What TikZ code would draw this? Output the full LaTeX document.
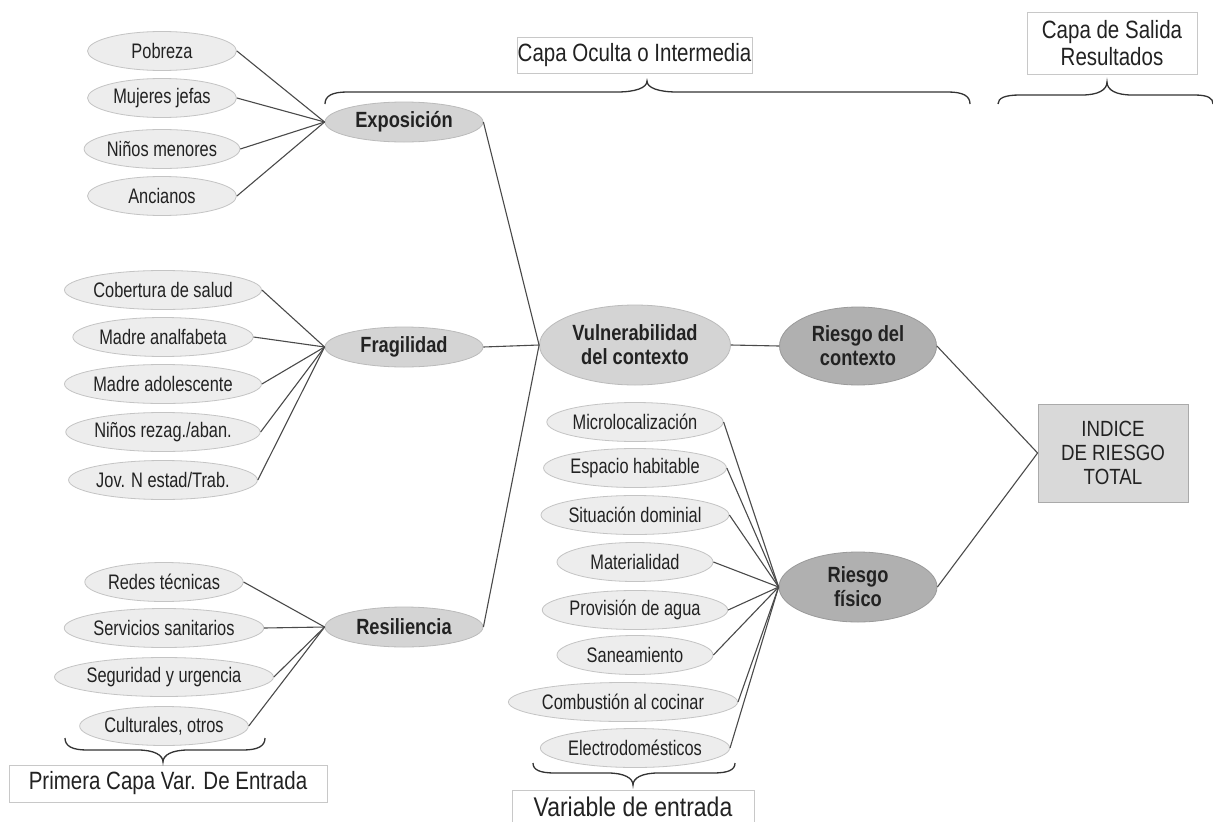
\documentclass[tikz,border=0pt]{standalone}
\usepackage{fontspec}
\setmainfont{Liberation Sans}
\newfontfamily\nfont[FakeStretch=0.78]{Liberation Sans}
\newfontfamily\bfont[FakeStretch=0.83]{Liberation Sans}
\newfontfamily\hfont[FakeStretch=0.82]{Liberation Sans}
\newfontfamily\ifont[FakeStretch=0.85]{Liberation Sans}
\usetikzlibrary{shapes.geometric}
\definecolor{sfill}{HTML}{EDEDED}
\definecolor{sbord}{HTML}{C4C4C4}
\definecolor{mfill}{HTML}{D4D4D4}
\definecolor{mbord}{HTML}{BBBBBB}
\definecolor{dfill}{HTML}{B0B0B0}
\definecolor{dbord}{HTML}{9A9A9A}
\definecolor{ifill}{HTML}{D9D9D9}
\definecolor{ibord}{HTML}{AAAAAA}
\definecolor{hbord}{HTML}{C8C8C8}
\definecolor{lin}{HTML}{4A4A4A}
\definecolor{txt}{HTML}{222222}
\tikzset{
  small/.style={ellipse, draw=sbord, fill=sfill, line width=0.8pt, minimum height=39pt, inner sep=0pt, text=txt, font=\nfont\fontsize{21}{24}\selectfont},
  mid/.style={ellipse, draw=mbord, fill=mfill, line width=0.8pt, minimum width=158pt, minimum height=40pt, inner sep=0pt, text=txt, align=center, font=\bfont\bfseries\fontsize{22}{24}\selectfont},
  dark/.style={mid, draw=dbord, fill=dfill},
  hbox/.style={rectangle, draw=hbord, fill=white, line width=0.8pt, inner sep=0pt, text=txt, align=center, font=\hfont\fontsize{25}{27}\selectfont},
  ibox/.style={rectangle, draw=ibord, fill=ifill, line width=0.8pt, inner sep=0pt, text=txt, align=center, minimum width=150pt, minimum height=98pt, font=\ifont\fontsize{22}{24}\selectfont},
  conn/.style={draw=lin, line width=1.1pt},
  bracel/.style={draw=black!80, line width=1.3pt}
}
\begin{document}
\begin{tikzpicture}[x=1pt,y=-1pt]
\useasboundingbox (0,0) rectangle (1213,822);
\fill[white] (0,0) rectangle (1213,822);

% group 1
\node[small, minimum width=149pt] (p1) at (162,51) {Pobreza};
\node[small, minimum width=149pt] (p2) at (162,98) {Mujeres jefas};
\node[small, minimum width=149pt] (p3) at (162,149) {Niños menores};
\node[small, minimum width=149pt] (p4) at (162,196) {Ancianos};
% group 2
\node[small, minimum width=157pt] (f1) at (163,290) {Cobertura de salud};
\node[small, minimum width=157pt] (f2) at (163,337) {Madre analfabeta};
\node[small, minimum width=157pt] (f3) at (163,384) {Madre adolescente};
\node[small, minimum width=157pt] (f4) at (163,432) {Niños rezag./aban.};
\node[small, minimum width=157pt] (f5) at (163,480) {Jov. N estad/Trab.};
% group 3
\node[small, minimum width=158pt] (r1) at (164,582) {Redes técnicas};
\node[small, minimum width=158pt] (r2) at (164,628) {Servicios sanitarios};
\node[small, minimum width=168pt] (r3) at (164,677) {Seguridad y urgencia};
\node[small, minimum width=158pt] (r4) at (164,726) {Culturales, otros};
% group 4
\node[small, minimum width=156pt] (m1) at (635,422) {Microlocalización};
\node[small, minimum width=156pt] (m2) at (635,468) {Espacio habitable};
\node[small, minimum width=156pt] (m3) at (635,515) {Situación dominial};
\node[small, minimum width=156pt] (m4) at (635,562) {Materialidad};
\node[small, minimum width=156pt] (m5) at (635,610) {Provisión de agua};
\node[small, minimum width=156pt] (m6) at (635,655) {Saneamiento};
\node[small, minimum width=180pt] (m7) at (623,702) {Combustión al cocinar};
\node[small, minimum width=156pt] (m8) at (635,748) {Electrodomésticos};

% middle nodes
\node[mid] (exp) at (404,122) {Exposición};
\node[mid] (fra) at (404,347) {Fragilidad};
\node[mid] (res) at (404,627) {Resiliencia};
\node[mid, minimum width=191pt, minimum height=80pt] (vul) at (635,345) {Vulnerabilidad\\del contexto};
\node[dark, minimum width=157pt, minimum height=78pt] (rc) at (858,346) {Riesgo del\\contexto};
\node[dark, minimum width=158pt, minimum height=70pt] (rf) at (858,587) {Riesgo\\físico};
\node[ibox] (ind) at (1113,453) {INDICE\\DE RIESGO\\TOTAL};

% header boxes
\node[hbox, minimum width=235pt, minimum height=36pt] (hco) at (634.5,55) {Capa Oculta o Intermedia};
\node[hbox, minimum width=170pt, minimum height=62pt] (hcs) at (1112,43) {Capa de Salida\\Resultados};
\node[hbox, minimum width=318pt, minimum height=37pt] (hpc) at (168,783.5) {Primera Capa Var. De Entrada};
\node[hbox, minimum width=242pt, minimum height=34pt, font=\ifont\fontsize{27}{29}\selectfont] (hve) at (633,807) {Variable de entrada};

% connectors
\foreach \n in {p1,p2,p3,p4} \draw[conn] (\n.east) -- (exp.west);
\foreach \n in {f1,f2,f3,f4,f5} \draw[conn] (\n.east) -- (fra.west);
\foreach \n in {r1,r2,r3,r4} \draw[conn] (\n.east) -- (res.west);
\foreach \n in {m1,m2,m3,m4,m5,m6,m7,m8} \draw[conn] (\n.east) -- (rf.west);
\draw[conn] (exp.east) -- (vul.west);
\draw[conn] (fra.east) -- (vul.west);
\draw[conn] (res.east) -- (vul.west);
\draw[conn] (vul.east) -- (rc.west);
\draw[conn] (rc.east) -- (ind.west);
\draw[conn] (rf.east) -- (ind.west);

% braces
\draw[bracel] (325,104) .. controls (325,96) and (332,92) .. (347,92) -- (617,92) .. controls (635,92) and (647,88) .. (647,81) .. controls (647,88) and (659,92) .. (677,92) -- (948,92) .. controls (963,92) and (970,96) .. (970,104);
\draw[bracel] (998,104) .. controls (998,98) and (1005,95) .. (1020,95) -- (1082,95) .. controls (1098,95) and (1107,90) .. (1107,82) .. controls (1107,90) and (1116,95) .. (1132,95) -- (1194,95) .. controls (1208,95) and (1213,98) .. (1213,104);
\draw[bracel] (65,738) .. controls (65,746) and (72,750) .. (87,750) -- (138,750) .. controls (154,750) and (163,755) .. (163,762) .. controls (163,755) and (172,750) .. (188,750) -- (243,750) .. controls (258,750) and (265,746) .. (265,738);
\draw[bracel] (533,763) .. controls (533,770) and (540,773) .. (555,773) -- (608,773) .. controls (624,773) and (633,778) .. (633,785) .. controls (633,778) and (642,773) .. (658,773) -- (713,773) .. controls (728,773) and (735,770) .. (735,763);
\end{tikzpicture}
\end{document}
